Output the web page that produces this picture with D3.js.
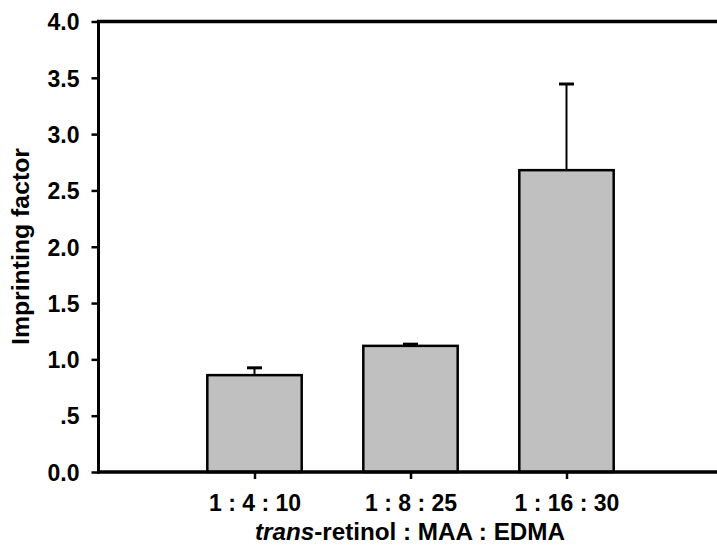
<!DOCTYPE html>
<html>
<head>
<meta charset="utf-8">
<script src="https://cdn.jsdelivr.net/npm/d3@7"></script>
<style>
  html, body { margin: 0; padding: 0; background: #fff; }
  svg { display: block; }
  text { font-family: "Liberation Sans", Arial, Helvetica, sans-serif; font-weight: bold; fill: #000; }
</style>
</head>
<body>
<svg id="chart" width="717" height="548"></svg>
<script>
// ---- data ----
const categories = ["1 : 4 : 10", "1 : 8 : 25", "1 : 16 : 30"];
const values = [0.86, 1.12, 2.68];
const errors = [0.065, 0.015, 0.765];
const yTicks = [0, 0.5, 1.0, 1.5, 2.0, 2.5, 3.0, 3.5, 4.0];
const yTickLabels = ["0.0", ".5", "1.0", "1.5", "2.0", "2.5", "3.0", "3.5", "4.0"];
const yTitle = "Imprinting factor";

// ---- layout ----
const plotLeft = 98.5, plotBottom = 472, plotTop = 21.5, plotRight = 717;
const svg = d3.select("#chart");

const x = d3.scaleLinear().domain([0, 4]).range([plotLeft, plotLeft + 624]);
const y = d3.scaleLinear().domain([0, 4]).range([plotBottom, plotTop]);
const barW = x(0.605) - x(0);

const pos = categories.map((c, i) => i + 1);

// bars
svg.append("g").selectAll("rect").data(values).join("rect")
  .attr("x", (d, i) => x(pos[i]) - barW / 2)
  .attr("y", d => y(d))
  .attr("width", barW)
  .attr("height", d => y(0) - y(d))
  .attr("fill", "#c0c0c0")
  .attr("stroke", "#000")
  .attr("stroke-width", 2.5);

// error bars (upper only)
const eg = svg.append("g");
values.forEach((v, i) => {
  const cx = x(pos[i]);
  eg.append("line")
    .attr("x1", cx).attr("x2", cx)
    .attr("y1", y(v)).attr("y2", y(v + errors[i]))
    .attr("stroke", "#000").attr("stroke-width", 2);
  eg.append("line")
    .attr("x1", cx - 7.5).attr("x2", cx + 7.5)
    .attr("y1", y(v + errors[i])).attr("y2", y(v + errors[i]))
    .attr("stroke", "#000").attr("stroke-width", 3);
});

// y axis
const yAxis = d3.axisLeft(y).tickValues(yTicks)
  .tickFormat((d, i) => yTickLabels[i]).tickSize(7).tickPadding(12);
const yg = svg.append("g").attr("transform", `translate(${plotLeft},0)`).call(yAxis);
yg.select(".domain").remove();
yg.selectAll(".tick line").attr("stroke", "#000").attr("stroke-width", 2.5);
yg.selectAll(".tick text").style("font-size", "23px").attr("dy", "0.36em")
  .style("font-family", '"Liberation Sans", Arial, sans-serif').style("font-weight", "bold");

// x axis
const xAxis = d3.axisBottom(x).tickValues(pos)
  .tickFormat((d, i) => categories[i]).tickSize(7).tickPadding(16);
const xg = svg.append("g").attr("transform", `translate(0,${plotBottom})`).call(xAxis);
xg.select(".domain").remove();
xg.selectAll(".tick line").attr("stroke", "#000").attr("stroke-width", 2.5);
xg.selectAll(".tick text").style("font-size", "23px").attr("dy", "0.71em")
  .style("font-family", '"Liberation Sans", Arial, sans-serif').style("font-weight", "bold");

// frame lines: left, bottom, top
svg.append("line").attr("x1", plotLeft).attr("x2", plotLeft).attr("y1", plotTop - 1.5).attr("y2", plotBottom + 1.5)
  .attr("stroke", "#000").attr("stroke-width", 3);
svg.append("line").attr("x1", plotLeft - 1.5).attr("x2", plotRight).attr("y1", plotBottom).attr("y2", plotBottom)
  .attr("stroke", "#000").attr("stroke-width", 3.5);
svg.append("line").attr("x1", plotLeft - 1.5).attr("x2", plotRight).attr("y1", plotTop).attr("y2", plotTop)
  .attr("stroke", "#000").attr("stroke-width", 3.5);

// y title
svg.append("text")
  .attr("transform", `translate(28.5,246.5) rotate(-90)`)
  .attr("text-anchor", "middle")
  .attr("textLength", 197).attr("lengthAdjust", "spacingAndGlyphs")
  .style("font-size", "23px")
  .text(yTitle);

// x title
const xt = svg.append("text")
  .attr("x", 410).attr("y", 540)
  .attr("text-anchor", "middle")
  .attr("textLength", 310).attr("lengthAdjust", "spacingAndGlyphs")
  .style("font-size", "23px");
xt.append("tspan").style("font-style", "italic").text("trans");
xt.append("tspan").text("-retinol : MAA : EDMA");
</script>
</body>
</html>
